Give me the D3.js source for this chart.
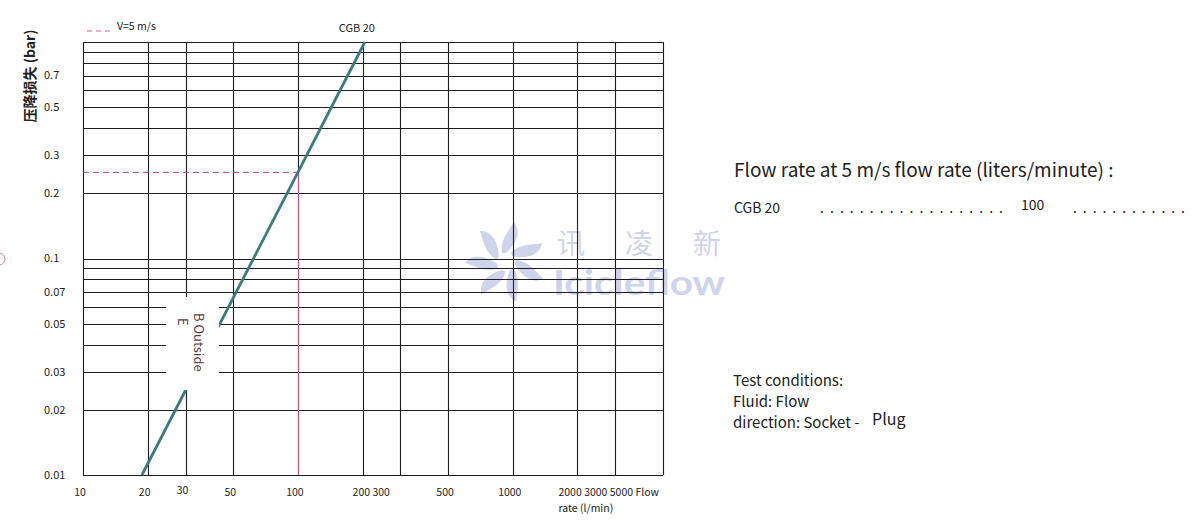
<!DOCTYPE html>
<html>
<head>
<meta charset="utf-8">
<script src="https://cdn.jsdelivr.net/npm/d3@7"></script>
<style>
	body { margin: 0; background: #fff; }
	text { font-family: 'Noto Sans CJK SC', 'Noto Sans', sans-serif; fill: #222; }
</style>
</head>
<body>
<div id="chart"></div>
<script>
// Data
const flowGrid = [10, 20, 30, 50, 100, 200, 300, 500, 1000, 2000, 3000, 5000]
const flowTicks = [10, 20, 30, 50, 100, 200, 500, 1000, 2000]
const flowTickLabels = ['10', '20', '30', '50', '100', '200 300', '500', '1000', '2000 3000 5000 Flow']
const dropGrid = [0.01, 0.02, 0.03, 0.04, 0.05, 0.06, 0.07, 0.08, 0.09,
	0.1, 0.2, 0.3, 0.4, 0.5, 0.6, 0.7, 0.8, 0.9, 1]
const dropTicks = [0.01, 0.02, 0.03, 0.05, 0.07, 0.1, 0.2, 0.3, 0.5, 0.7]
const cgb20Flow = [18.8, 100, 205]
const cgb20Drop = [0.01, 0.25, 1]
const refFlow = 100
const refDrop = 0.25

async function draw() {
	const dataset = cgb20Flow.map((f, i) => ({ flow: f, drop: cgb20Drop[i] }))

	// Dimensions
	let dimensions = {
		width: 1192,
		height: 526,
		margin: {
			top: 42,
			bottom: 51,
			left: 83,
			right: 529
		}
	}
	dimensions.ctrWidth = dimensions.width - dimensions.margin.left - dimensions.margin.right
	dimensions.ctrHeight = dimensions.height - dimensions.margin.top - dimensions.margin.bottom

	const xAccessor = (d) => d.flow
	const yAccessor = (d) => d.drop

	// Draw Image
	const svg = d3.select('#chart')
		.append('svg')
		.attr('width', dimensions.width)
		.attr('height', dimensions.height)

	// Watermark
	const wm = svg.append('g')
		.attr('opacity', 0.55)
	const logo = wm.append('g')
		.attr('transform', 'translate(506, 262)')
	logo.selectAll('path')
		.data(d3.range(7))
		.join('path')
		.attr('d', 'M0,-9 C10,-18 16,-30 8,-40 C2,-30 -6,-22 -4,-9 Z')
		.attr('transform', d => `rotate(${d * 360 / 7})`)
		.attr('fill', '#a9b1e0')
	const chars = ['讯', '凌', '新']
	wm.selectAll('text.cn')
		.data(chars)
		.join('text')
		.attr('class', 'cn')
		.attr('x', (d, i) => 571 + i * 68)
		.attr('y', 254)
		.attr('text-anchor', 'middle')
		.attr('font-size', 28)
		.style('fill', '#a9b1e0')
		.text(d => d)
	wm.append('text')
		.attr('x', 553)
		.attr('y', 295)
		.attr('font-size', 34)
		.attr('font-weight', 'bold')
		.attr('textLength', 172)
		.attr('lengthAdjust', 'spacingAndGlyphs')
		.style('font-family', 'Lato, sans-serif')
		.style('fill', '#a9b1e0')
		.text('Icicleflow')

	const ctr = svg.append('g')
		.attr('transform',
			`translate(${dimensions.margin.left}, ${dimensions.margin.top})`
		)

	// Scales
	const xScale = d3.scaleLog()
		.domain([10, 5000])
		.range([0, dimensions.ctrWidth])

	const yScale = d3.scaleLog()
		.domain([0.01, 1])
		.range([dimensions.ctrHeight, 0])

	// Grid
	ctr.selectAll('line.hgrid')
		.data(dropGrid)
		.join('line')
		.attr('class', 'hgrid')
		.attr('x1', 0)
		.attr('x2', dimensions.ctrWidth)
		.attr('y1', d => Math.round(yScale(d)) + 0.5)
		.attr('y2', d => Math.round(yScale(d)) + 0.5)
		.attr('stroke', '#1e1e1e')
		.attr('stroke-width', 1.1)

	ctr.selectAll('line.vgrid')
		.data(flowGrid)
		.join('line')
		.attr('class', 'vgrid')
		.attr('x1', d => Math.round(xScale(d)) + 0.5)
		.attr('x2', d => Math.round(xScale(d)) + 0.5)
		.attr('y1', 0)
		.attr('y2', dimensions.ctrHeight)
		.attr('stroke', '#1e1e1e')
		.attr('stroke-width', 1.1)

	// Reference lines (V=5 m/s)
	ctr.append('line')
		.attr('x1', 0)
		.attr('x2', xScale(refFlow))
		.attr('y1', yScale(refDrop))
		.attr('y2', yScale(refDrop))
		.attr('stroke', '#a8457f')
		.attr('stroke-width', 1)
		.attr('stroke-dasharray', '6 4')
	ctr.append('line')
		.attr('x1', Math.round(xScale(refFlow)) + 0.5)
		.attr('x2', Math.round(xScale(refFlow)) + 0.5)
		.attr('y1', yScale(refDrop))
		.attr('y2', dimensions.ctrHeight)
		.attr('stroke', '#c45a8a')
		.attr('stroke-width', 1.2)

	// Curve
	const line = d3.line()
		.x(d => xScale(xAccessor(d)))
		.y(d => yScale(yAccessor(d)))
	ctr.append('path')
		.datum(dataset)
		.attr('d', line)
		.attr('fill', 'none')
		.attr('stroke', '#3d7a7f')
		.attr('stroke-width', 2.8)

	// Annotation box
	svg.append('rect')
		.attr('x', 166)
		.attr('y', 297)
		.attr('width', 53)
		.attr('height', 93)
		.attr('rx', 5)
		.attr('fill', '#fff')
	const note = svg.append('text')
		.attr('transform', 'translate(194, 313) rotate(90)')
		.attr('font-size', 13)
		.style('fill', '#5c3a3c')
	note.append('tspan')
		.attr('x', 0)
		.attr('y', 0)
		.text('B Outside')
	note.append('tspan')
		.attr('x', 5)
		.attr('y', 16)
		.text('E')

	// Y tick labels
	svg.selectAll('text.ytick')
		.data(dropTicks)
		.join('text')
		.attr('class', 'ytick')
		.attr('x', 44)
		.attr('y', d => dimensions.margin.top + yScale(d))
		.attr('dy', '0.35em')
		.attr('font-size', 11)
		.text(d => d)

	// X tick labels
	svg.selectAll('text.xtick')
		.data(flowTicks)
		.join('text')
		.attr('class', 'xtick')
		.attr('x', (d, i) => {
			const lbl = flowTickLabels[i]
			const px = dimensions.margin.left + xScale(d)
			if (!lbl.includes(' ')) return px - 3
			return d === 200 ? px - 10 : px - 19
		})
		.attr('y', (d, i) => d === 30 ? 494 : 496)
		.attr('text-anchor', (d, i) => flowTickLabels[i].includes(' ') ? 'start' : 'middle')
		.attr('font-size', 10.5)
		.text((d, i) => flowTickLabels[i])
	svg.append('text')
		.attr('x', dimensions.margin.left + xScale(2000) - 19)
		.attr('y', 512)
		.attr('font-size', 10.5)
		.text('rate (l/min)')

	// Y axis title
	svg.append('text')
		.attr('transform', 'translate(35, 76) rotate(-90)')
		.attr('text-anchor', 'middle')
		.attr('font-size', 14)
		.attr('font-weight', 'bold')
		.text('压降损失 (bar)')

	// Legend
	svg.append('line')
		.attr('x1', 87)
		.attr('x2', 111)
		.attr('y1', 31)
		.attr('y2', 31)
		.attr('stroke', '#d0609a')
		.attr('stroke-width', 1)
		.attr('stroke-dasharray', '5 4')
	svg.append('text')
		.attr('x', 117)
		.attr('y', 30)
		.attr('font-size', 10.5)
		.text('V=5 m/s')
	svg.append('text')
		.attr('x', dimensions.margin.left + xScale(205) - 8)
		.attr('y', 32)
		.attr('text-anchor', 'middle')
		.attr('font-size', 11)
		.text('CGB 20')

	// Odd mark at left edge
	svg.append('circle')
		.attr('cx', -1)
		.attr('cy', 259)
		.attr('r', 6)
		.attr('fill', 'none')
		.attr('stroke', '#d98a86')

	// Side notes
	svg.append('text')
		.attr('x', 734)
		.attr('y', 177)
		.attr('font-size', 19)
		.text('Flow rate at 5 m/s flow rate (liters/minute) :')
	svg.append('text')
		.attr('x', 734)
		.attr('y', 213)
		.attr('font-size', 14)
		.text('CGB 20')
	svg.append('text')
		.attr('x', 820)
		.attr('y', 213)
		.attr('font-size', 14)
		.attr('textLength', 183)
		.attr('lengthAdjust', 'spacing')
		.text(d3.range(19).map(() => '.').join(' '))
	svg.append('text')
		.attr('x', 1021)
		.attr('y', 210)
		.attr('font-size', 14)
		.text(refFlow)
	svg.append('text')
		.attr('x', 1073)
		.attr('y', 213)
		.attr('font-size', 14)
		.attr('textLength', 112)
		.attr('lengthAdjust', 'spacing')
		.text(d3.range(12).map(() => '.').join(' '))

	const cond = ['Test conditions:', 'Fluid: Flow', 'direction: Socket -']
	svg.selectAll('text.cond')
		.data(cond)
		.join('text')
		.attr('class', 'cond')
		.attr('x', 733)
		.attr('y', (d, i) => 386 + i * 21)
		.attr('font-size', 15)
		.text(d => d)
	svg.append('text')
		.attr('x', 872)
		.attr('y', 425)
		.attr('font-size', 16)
		.text('Plug')
}

draw()
</script>
</body>
</html>
